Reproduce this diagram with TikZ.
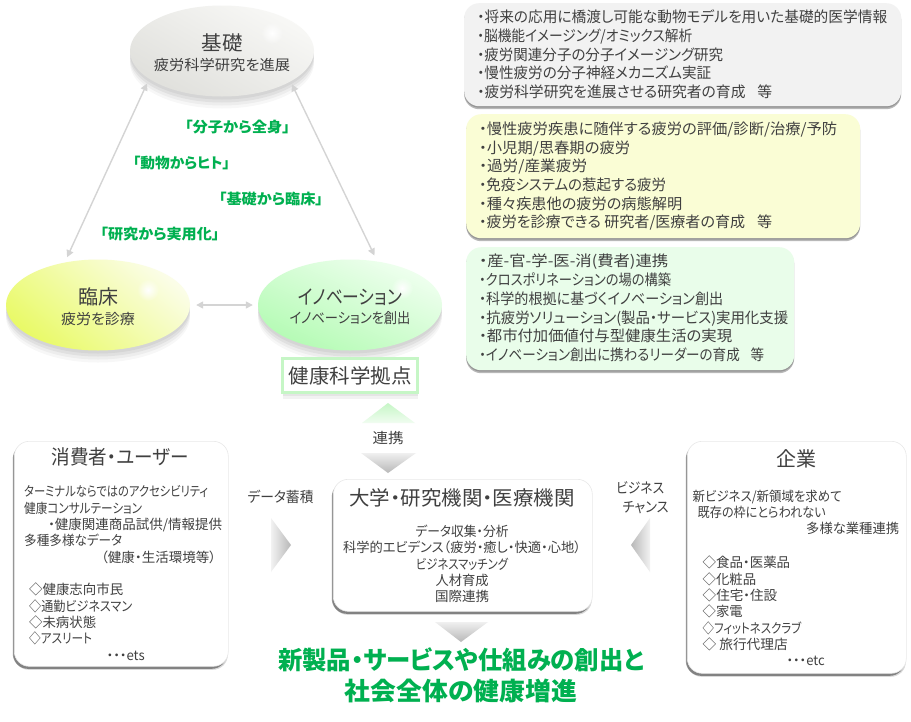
\documentclass[tikz,border=0pt]{standalone}
\usepackage{fontspec}
\setmainfont{Noto Sans CJK JP}[RawFeature=+palt]
\usetikzlibrary{shapes.geometric,shadows,fadings,arrows.meta}
\definecolor{txt}{HTML}{404040}
\definecolor{grn}{HTML}{00B050}
\definecolor{arrowgray}{HTML}{D4D4D4}
\definecolor{kisoA}{HTML}{F8F8F6}
\definecolor{kisoB}{HTML}{E0E0DC}
\definecolor{rinA}{HTML}{FBFDE8}
\definecolor{rinB}{HTML}{E9FA68}
\definecolor{innoA}{HTML}{F0FFF0}
\definecolor{innoB}{HTML}{B4FBB4}
\definecolor{panelgray}{HTML}{F2F2F2}
\definecolor{panelyellow}{HTML}{FAFDD5}
\definecolor{panelgreen}{HTML}{E9FDEA}
\definecolor{frame}{HTML}{C6F6C6}
\tikzset{
  softshadow/.style={
    general shadow={shadow xshift=0pt,shadow yshift=-3pt,fill=black,fill opacity=.05},
    general shadow={shadow xshift=0pt,shadow yshift=-6pt,fill=black,fill opacity=.05},
    general shadow={shadow xshift=0pt,shadow yshift=-9pt,fill=black,fill opacity=.04},
    general shadow={shadow xshift=0pt,shadow yshift=-12pt,fill=black,fill opacity=.03}},
  blob/.style={ellipse,minimum width=184pt,minimum height=91pt,inner sep=0pt,softshadow},
  blobtext/.style={inner sep=0pt,align=center,text=txt,yshift=-1.5pt},
  panel/.style={rectangle,rounded corners=15pt,anchor=north west,inner sep=0pt,
    general shadow={shadow xshift=0pt,shadow yshift=-3pt,fill=black,fill opacity=.28},
    general shadow={shadow xshift=0pt,shadow yshift=-1.5pt,fill=black,fill opacity=.18}},
  card/.style={rectangle,anchor=north west,inner sep=0pt,draw=black!9,line width=.6pt,fill=white,rounded corners=15pt,
    general shadow={shadow xshift=-1.5pt,shadow yshift=-2.5pt,fill=black,fill opacity=.4},
    general shadow={shadow xshift=-.5pt,shadow yshift=-3.5pt,fill=black,fill opacity=.15}},
  listtext/.style={anchor=west,inner sep=0pt,align=left,text=txt,font=\fontsize{15}{18.7}\selectfont},
  small/.style={inner sep=0pt,text=txt,font=\fontsize{13.5}{16.35}\selectfont},
  title/.style={inner sep=0pt,text=txt,font=\fontsize{20}{24}\selectfont},
  slogan/.style={inner sep=0pt,text=grn,font=\fontsize{14.5}{17}\selectfont\bfseries},
  link/.style={draw=arrowgray,line width=1.4pt,{Triangle[length=7pt,width=7pt]}-{Triangle[length=7pt,width=7pt]}},
  glow/.style={fill=white,path fading=glowfade},
  caption/.style={inner sep=0pt,text=txt,font=\fontsize{14.5}{19}\selectfont},
}
\tikzfading[name=glowfade,inner color=transparent!0,outer color=transparent!100]
\newcommand{\fitw}[2]{\resizebox{#1pt}{\height}{#2}}
\newcommand{\bigt}[2]{{\fontsize{20}{20}\selectfont\fitw{#1}{#2}}}
\newcommand{\subt}[2]{{\fontsize{14.5}{14.5}\selectfont\fitw{#1}{#2}}}
\begin{document}
\begin{tikzpicture}[x=1pt,y=-1pt]
\useasboundingbox (0,0) rectangle (911,721);
\fill[white] (0,0) rectangle (911,721);

% ellipses
\node[blob,top color=kisoA,bottom color=kisoB,shading angle=-30] (kiso) at (222,51) {};
\node[blob,top color=rinA,bottom color=rinB,shading angle=-40] (rin) at (98,305) {};
\node[blob,top color=innoA,bottom color=innoB,shading angle=-25] (inno) at (350,305) {};
\fill[glow] (272,33) circle (11);
\fill[glow] (148,290) circle (11);
\fill[glow] (402,288) circle (11);
\node[blobtext] (kisot) at (kiso) {\bigt{41}{基礎}\\[5pt]\subt{136}{疲労科学研究を進展}};
\node[blobtext] (rint) at (rin) {\bigt{40}{臨床}\\[5pt]\subt{74}{疲労を診療}};
\node[blobtext] (innot) at (inno) {\bigt{104}{イノベーション}\\[5pt]\subt{121}{イノベーションを創出}};

% connectors
\draw[link,shorten <=5pt,shorten >=5.7pt] (kiso.201) -- (rin.128.9);
\draw[link,shorten <=3pt,shorten >=6.5pt] (kiso.336.8) -- (inno.58.8);
\draw[link,shorten <=6pt,shorten >=5pt] (rin.east) -- (inno.west);

% slogans
\node[slogan] (s1) at (237.5,127) {\fitw{105}{「分子から全身」}};
\node[slogan] (s2) at (181.5,163) {\fitw{97}{「動物からヒト」}};
\node[slogan] (s3) at (271,199) {\fitw{104}{「基礎から臨床」}};
\node[slogan] (s4) at (160,234) {\fitw{119}{「研究から実用化」}};

% right panels
\node[panel,fill=panelgray,minimum width=437pt,minimum height=103pt] (pa) at (464,3) {};
\node[listtext] (pat) at (477,54.3) {\fitw{410}{・将来の応用に橋渡し可能な動物モデルを用いた基礎的医学情報}\\\fitw{215}{・脳機能イメージング/オミックス解析}\\\fitw{246}{・疲労関連分子の分子イメージング研究}\\\fitw{234}{・慢性疲労の分子神経メカニズム実証}\\\fitw{295}{・疲労科学研究を進展させる研究者の育成\hspace{12pt}等}};
\node[panel,fill=panelyellow,minimum width=394pt,minimum height=124pt] (pb) at (466,114) {};
\node[listtext] (pbt) at (479,176.2) {\fitw{358}{・慢性疲労疾患に随伴する疲労の評価/診断/治療/予防}\\\fitw{151}{・小児期/思春期の疲労}\\\fitw{108}{・過労/産業疲労}\\\fitw{187}{・免疫システムの惹起する疲労}\\\fitw{203}{・種々疾患他の疲労の病態解明}\\\fitw{293}{・疲労を診療できる 研究者/医療者の育成\hspace{12pt}等}};
\node[panel,fill=panelgreen,minimum width=328pt,minimum height=123pt] (pc) at (466,247) {};
\node[listtext] (pct) at (479,308) {\fitw{189}{・産-官-学-医-消(費者)連携}\\\fitw{192}{・クロスポリネーションの場の構築}\\\fitw{244}{・科学的根拠に基づくイノベーション創出}\\\fitw{309}{・抗疲労ソリューション(製品・サービス)実用化支援}\\\fitw{253}{・都市付加価値付与型健康生活の実現}\\\fitw{285}{・イノベーション創出に携わるリーダーの育成\hspace{12pt}等}};

% hub
\node[draw=frame,line width=3pt,fill=white,minimum width=135pt,minimum height=34pt,inner sep=0pt,text=txt,font=\fontsize{20}{24}\selectfont,
  general shadow={shadow xshift=0pt,shadow yshift=-6pt,fill=black,fill opacity=.05},
  general shadow={shadow xshift=0pt,shadow yshift=-3pt,fill=black,fill opacity=.05}] (hub) at (350,375.5) {\fitw{123}{健康科学拠点}};

% triangles
\shade[top color=frame,bottom color=frame!25] (388,403) -- (415,423) -- (362,423) -- cycle;
\shade[top color=black!6,bottom color=black!28] (361,453) -- (416,453) -- (388,473) -- cycle;
\shade[top color=black!6,bottom color=black!28] (435,622) -- (488,622) -- (461,642) -- cycle;
\shade[left color=black!5,right color=black!28] (271,518) -- (291,545) -- (271,572) -- cycle;
\shade[right color=black!5,left color=black!28] (650,518) -- (631,545) -- (650,572) -- cycle;

\node[caption] (renkei) at (388,438) {\fitw{31}{連携}};
\node[caption] (data) at (280.5,497) {\fitw{66}{データ蓄積}};
\node[caption,align=left,anchor=west] (biz) at (616,497.5) {\fitw{48}{ビジネス}\\\hspace{6.5pt}\fitw{46}{チャンス}};

% left card
\node[card,minimum width=214pt,minimum height=225pt] (user) at (14,441) {};
\node[title] (usert) at (120,457) {\fitw{137}{消費者・ユーザー}};
\node[small,anchor=west,align=left] (userb) at (24,573) {\fitw{184}{ターミナルならではのアクセシビリティ}\\\fitw{118}{健康コンサルテーション}\\\hspace{24pt}\fitw{174}{・健康関連商品試供/情報提供}\\\fitw{98}{多種多様なデータ}\\\hspace{77pt}\fitw{115}{（健康・生活環境等）}\\\mbox{}\\\hspace{5pt}\fitw{94}{◇健康志向市民}\\\hspace{5pt}\fitw{103}{◇通勤ビジネスマン}\\\hspace{5pt}\fitw{67}{◇未病状態}\\\hspace{5pt}\fitw{63}{◇アスリート}\\\hspace{82.5pt}\fitw{38}{・・・ets}};

% centre card
\node[card,minimum width=259pt,minimum height=132pt] (uni) at (333,479) {};
\node[title] (unit) at (462,498) {\fitw{225}{大学・研究機関・医療機関}};
\node[small,align=center] (unib) at (462,564) {\fitw{93}{データ収集・分析}\\\fitw{238}{科学的エビデンス（疲労・癒し・快適・心地）}\mbox{}\hspace{8pt}\\\fitw{92}{ビジネスマッチング}\\\fitw{53}{人材育成}\\\fitw{54}{国際連携}};

% right card
\node[card,minimum width=219pt,minimum height=232pt] (corp) at (687,441) {};
\node[title] (corpt) at (796,459) {\fitw{40}{企業}};
\node[small,anchor=west,align=left] (corpa) at (692.5,512.5) {\fitw{149}{新ビジネス/新領域を求めて}\\\hspace{5pt}\fitw{128}{既存の枠にとらわれない}\\\hspace{113.5pt}\fitw{93}{多様な業種連携}};
\node[small,anchor=west,align=left] (corpb) at (702.5,611) {\fitw{87.5}{◇食品・医薬品}\\\fitw{53.5}{◇化粧品}\\\fitw{74.5}{◇住宅・住設}\\\fitw{40}{◇家電}\\\fitw{98.5}{◇フィットネスクラブ}\\\fitw{85}{◇ 旅行代理店}\\\hspace{84pt}\fitw{38}{・・・etc}};

% headline
\node[inner sep=0pt,text=grn,align=center,font=\fontsize{25}{31}\selectfont\bfseries] (head) at (461,675) {\fitw{366}{新製品・サービスや仕組みの創出と}\\\fitw{232}{社会全体の健康増進}};
\end{tikzpicture}
\end{document}
